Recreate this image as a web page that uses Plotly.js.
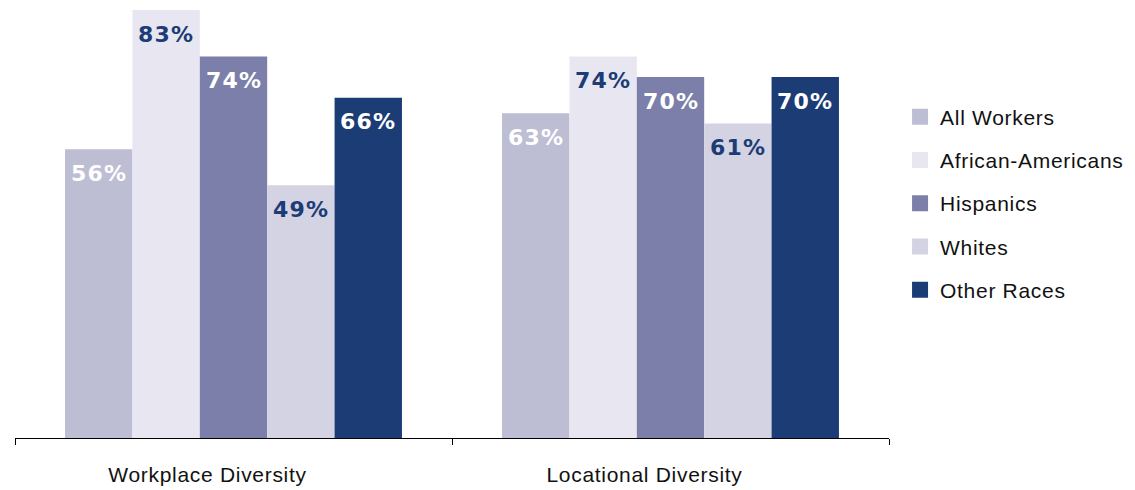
<!DOCTYPE html>
<html>
<head>
<meta charset="utf-8">
<script src="https://cdn.plot.ly/plotly-3.0.1.min.js"></script>
<style>
  html, body { margin: 0; padding: 0; background: #ffffff; }
  #chart { width: 1135px; height: 490px; }
  .legendtext, .xtick text { letter-spacing: 0.7px; }
  .annotation-text { letter-spacing: 1.2px; }
</style>
</head>
<body>
<div id="chart"></div>
<script>
// ---- data ----
const categories = ["Workplace Diversity", "Locational Diversity"];
const seriesNames = ["All Workers", "African-Americans", "Hispanics", "Whites", "Other Races"];
const allWorkers = [56, 63];
const africanAmericans = [83, 74];
const hispanics = [74, 70];
const whites = [49, 61];
const otherRaces = [66, 70];

// ---- styles ----
const seriesValues = [allWorkers, africanAmericans, hispanics, whites, otherRaces];
const barColors = ["#bdbdd4", "#e8e7f1", "#7b7fa9", "#d3d3e3", "#1c3c75"];
const labelColors = ["#ffffff", "#1c3c75", "#ffffff", "#1c3c75", "#ffffff"];
const bargap = 0.229;
const nSeries = seriesNames.length;
const groupWidth = 1 - bargap;
const barWidth = groupWidth / nSeries;

const traces = [];
seriesNames.forEach((name, i) => {
  traces.push({
    type: "bar",
    name: name,
    x: categories,
    y: seriesValues[i],
    marker: { color: barColors[i], line: { width: 0 } },
    showlegend: false,
    hoverinfo: "skip"
  });
});
// legend entries (larger square swatches)
seriesNames.forEach((name, i) => {
  traces.push({
    type: "scatter",
    mode: "markers",
    name: name,
    x: [null],
    y: [null],
    marker: { symbol: "square", size: 16, color: barColors[i] },
    legendgroup: "g" + i,
    showlegend: true,
    hoverinfo: "skip"
  });
});

const annotations = [];
seriesValues.forEach((vals, i) => {
  const offset = -groupWidth / 2 + (i + 0.5) * barWidth;
  vals.forEach((v, c) => {
    annotations.push({
      x: c + offset,
      y: v,
      xref: "x",
      yref: "y",
      text: "<b>" + v + "%</b>",
      showarrow: false,
      xanchor: "center",
      yanchor: "middle",
      yshift: -24,
      font: { family: "DejaVu Sans", size: 22, color: labelColors[i], weight: "bold" }
    });
  });
});

const layout = {
  width: 1135,
  height: 490,
  margin: { l: 15, r: 246, t: 10, b: 52 },
  paper_bgcolor: "#ffffff",
  plot_bgcolor: "#ffffff",
  barmode: "group",
  bargap: bargap,
  bargroupgap: 0,
  hovermode: false,
  showlegend: true,
  xaxis: {
    type: "category",
    showline: true,
    linecolor: "#000000",
    linewidth: 1,
    ticks: "outside",
    tickson: "boundaries",
    ticklen: 6,
    tickcolor: "#000000",
    tickwidth: 1,
    showgrid: false,
    zeroline: false,
    ticklabelstandoff: 18,
    ticklabelshift: -26,
    tickfont: { family: "Liberation Sans, Arial, sans-serif", size: 21, color: "#111111" },
    fixedrange: true
  },
  yaxis: {
    range: [0, 83],
    visible: false,
    showgrid: false,
    zeroline: false,
    fixedrange: true
  },
  legend: {
    xref: "container",
    yref: "container",
    x: 0.793,
    y: 1 - 203.5 / 490,
    xanchor: "left",
    yanchor: "middle",
    traceorder: "grouped",
    tracegroupgap: 13,
    font: { family: "Liberation Sans, Arial, sans-serif", size: 21, color: "#111111" },
    bgcolor: "rgba(0,0,0,0)",
    borderwidth: 0
  },
  annotations: annotations
};

Plotly.newPlot("chart", traces, layout, { displayModeBar: false, staticPlot: true });
</script>
</body>
</html>
